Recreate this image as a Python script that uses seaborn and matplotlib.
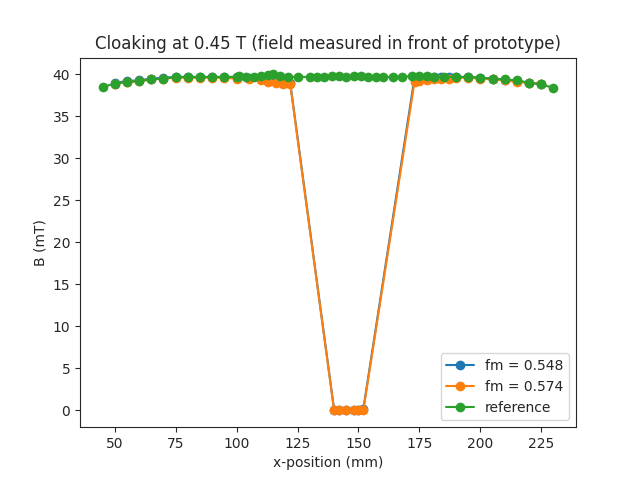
import numpy as np
import matplotlib
matplotlib.use('Agg')
import matplotlib.pyplot as plt
import seaborn as sns

x_fm = [50, 55, 60, 65, 70, 75, 80, 85, 90, 95, 100, 105, 110, 113, 116, 119, 122,
        140, 142, 145, 148, 150, 152,
        173, 175, 178, 181, 184, 187, 190, 195, 200, 205, 210, 215, 220, 225]
b_fm1 = [39.0, 39.2, 39.3, 39.5, 39.6, 39.7, 39.7, 39.7, 39.7, 39.7, 39.7, 39.6, 39.5, 39.4, 39.3, 39.2, 39.0,
         0.1, 0.0, 0.1, 0.0, 0.1, 0.2,
         39.6, 39.7, 39.7, 39.7, 39.7, 39.7, 39.7, 39.7, 39.6, 39.5, 39.3, 39.2, 39.0, 38.9]
b_fm2 = [38.9, 39.1, 39.2, 39.4, 39.5, 39.6, 39.6, 39.6, 39.6, 39.6, 39.5, 39.4, 39.3, 39.1, 39.0, 38.9, 38.8,
         0.0, 0.0, 0.0, 0.0, 0.0, 0.0,
         39.1, 39.2, 39.3, 39.4, 39.5, 39.5, 39.6, 39.6, 39.5, 39.4, 39.3, 39.1, 39.0, 38.9]
x_ref = [45, 50, 55, 60, 65, 70, 75, 80, 85, 90, 95, 100, 101, 104, 107, 110, 113, 115, 118, 121,
         125, 130, 133, 136, 139, 142, 145, 148, 151, 154, 157, 160, 164, 168, 172, 175, 178, 181,
         185, 190, 195, 200, 205, 210, 215, 220, 225, 230]
b_ref = [38.5, 38.9, 39.1, 39.2, 39.4, 39.5, 39.7, 39.7, 39.7, 39.7, 39.7, 39.7, 39.8, 39.7, 39.7, 39.8, 39.9, 40.0, 39.8, 39.7,
         39.7, 39.7, 39.7, 39.7, 39.8, 39.8, 39.7, 39.8, 39.8, 39.7, 39.7, 39.7, 39.7, 39.7, 39.8, 39.8, 39.8, 39.7,
         39.7, 39.7, 39.7, 39.6, 39.5, 39.4, 39.3, 39.0, 38.8, 38.4]

sns.set_style('ticks')
plt.rcParams['font.family'] = ['DejaVu Sans']
fig, ax = plt.subplots(figsize=(6.4, 4.8), dpi=100)
sns.lineplot(x=x_fm, y=b_fm1, marker='o', markeredgewidth=0, markersize=7, color='C0', label='fm = 0.548', ax=ax)
sns.lineplot(x=x_fm, y=b_fm2, marker='o', markeredgewidth=0, markersize=7, color='C1', label='fm = 0.574', ax=ax)
sns.lineplot(x=x_ref, y=b_ref, marker='o', markeredgewidth=0, markersize=7, color='C2', label='reference', ax=ax)
ax.set_xlabel('x-position (mm)')
ax.set_ylabel('B (mT)')
ax.set_title('Cloaking at 0.45 T (field measured in front of prototype)')
ax.legend(loc='lower right')
fig.savefig('out.png')
